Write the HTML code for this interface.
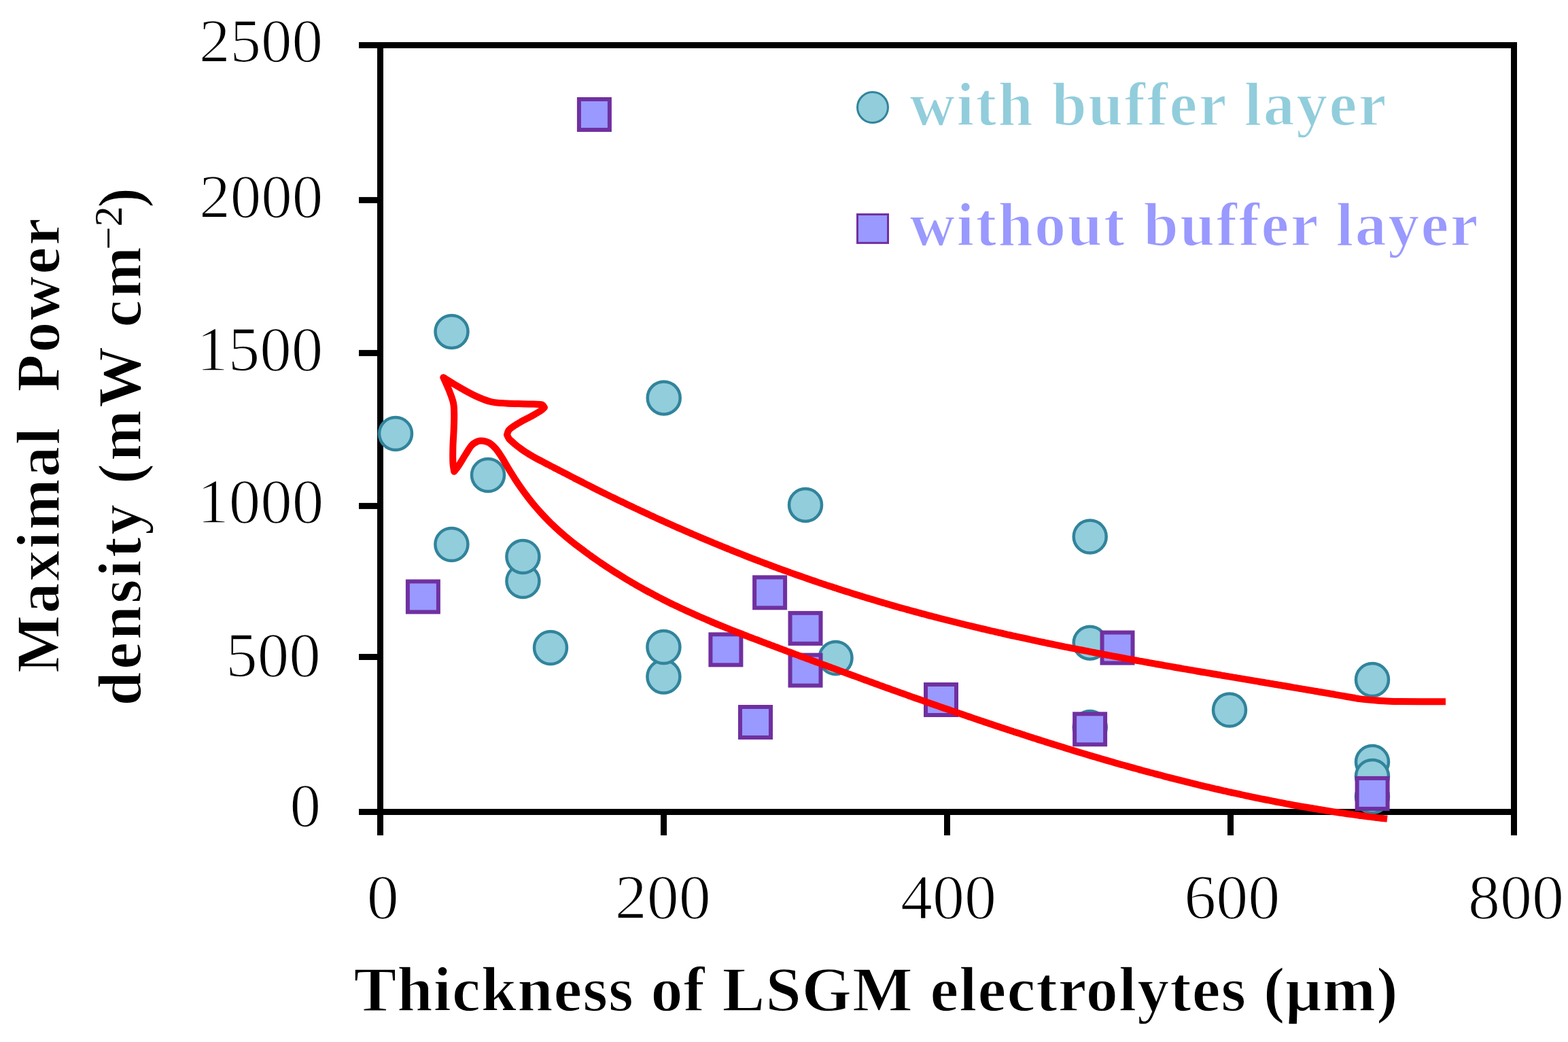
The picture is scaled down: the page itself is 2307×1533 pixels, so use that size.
<!DOCTYPE html>
<html><head><meta charset="utf-8"><title>Maximal power density vs thickness of LSGM electrolytes</title>
<style>html,body{margin:0;padding:0;background:#fff;width:2307px;height:1533px;overflow:hidden}svg{display:block}</style>
</head><body>
<svg width="2307" height="1533" viewBox="0 0 2307 1533"><rect width="2307" height="1533" fill="#ffffff"/>
<rect x="555" y="62" width="9" height="1137" fill="#000000"/>
<rect x="2223" y="62" width="9" height="1167" fill="#000000"/>
<rect x="528" y="62" width="1704" height="9" fill="#000000"/>
<rect x="528" y="1190" width="1704" height="9" fill="#000000"/>
<rect x="528" y="289.9" width="32" height="9" fill="#000000"/>
<rect x="528" y="514.9" width="32" height="9" fill="#000000"/>
<rect x="528" y="739.9" width="32" height="9" fill="#000000"/>
<rect x="528" y="962.0" width="32" height="9" fill="#000000"/>
<rect x="555.0" y="1190" width="9" height="39" fill="#000000"/>
<rect x="972.0" y="1190" width="9" height="39" fill="#000000"/>
<rect x="1389.0" y="1190" width="9" height="39" fill="#000000"/>
<rect x="1806.0" y="1190" width="9" height="39" fill="#000000"/>
<circle cx="582.0" cy="638.0" r="24.0" fill="#92cddc" stroke="#31849b" stroke-width="4.5"/>
<circle cx="664.5" cy="488.0" r="24.0" fill="#92cddc" stroke="#31849b" stroke-width="4.5"/>
<circle cx="718.0" cy="699.0" r="24.0" fill="#92cddc" stroke="#31849b" stroke-width="4.5"/>
<circle cx="664.4" cy="801.0" r="24.0" fill="#92cddc" stroke="#31849b" stroke-width="4.5"/>
<circle cx="769.4" cy="855.0" r="24.0" fill="#92cddc" stroke="#31849b" stroke-width="4.5"/>
<circle cx="769.4" cy="819.0" r="24.0" fill="#92cddc" stroke="#31849b" stroke-width="4.5"/>
<circle cx="810.0" cy="953.0" r="24.0" fill="#92cddc" stroke="#31849b" stroke-width="4.5"/>
<circle cx="976.7" cy="585.4" r="24.0" fill="#92cddc" stroke="#31849b" stroke-width="4.5"/>
<circle cx="976.4" cy="995.5" r="24.0" fill="#92cddc" stroke="#31849b" stroke-width="4.5"/>
<circle cx="976.4" cy="952.0" r="24.0" fill="#92cddc" stroke="#31849b" stroke-width="4.5"/>
<circle cx="1185.0" cy="743.0" r="24.0" fill="#92cddc" stroke="#31849b" stroke-width="4.5"/>
<circle cx="1229.5" cy="968.0" r="24.0" fill="#92cddc" stroke="#31849b" stroke-width="4.5"/>
<circle cx="1603.7" cy="789.5" r="24.0" fill="#92cddc" stroke="#31849b" stroke-width="4.5"/>
<circle cx="1603.7" cy="945.7" r="24.0" fill="#92cddc" stroke="#31849b" stroke-width="4.5"/>
<circle cx="1603.7" cy="1070.0" r="24.0" fill="#92cddc" stroke="#31849b" stroke-width="4.5"/>
<circle cx="1809.0" cy="1044.5" r="24.0" fill="#92cddc" stroke="#31849b" stroke-width="4.5"/>
<circle cx="2019.0" cy="1000.0" r="24.0" fill="#92cddc" stroke="#31849b" stroke-width="4.5"/>
<circle cx="2019.0" cy="1121.0" r="24.0" fill="#92cddc" stroke="#31849b" stroke-width="4.5"/>
<circle cx="2019.0" cy="1142.0" r="24.0" fill="#92cddc" stroke="#31849b" stroke-width="4.5"/>
<circle cx="2019.0" cy="1172.0" r="24.0" fill="#92cddc" stroke="#31849b" stroke-width="4.5"/>
<rect x="599.9" y="855.4" width="45" height="45" fill="#9999ff" stroke="#7030a0" stroke-width="6"/>
<rect x="851.9" y="146.0" width="45" height="45" fill="#9999ff" stroke="#7030a0" stroke-width="6"/>
<rect x="1045.4" y="933.3" width="45" height="45" fill="#9999ff" stroke="#7030a0" stroke-width="6"/>
<rect x="1089.0" y="1040.0" width="45" height="45" fill="#9999ff" stroke="#7030a0" stroke-width="6"/>
<rect x="1110.1" y="849.3" width="45" height="45" fill="#9999ff" stroke="#7030a0" stroke-width="6"/>
<rect x="1162.5" y="901.9" width="45" height="45" fill="#9999ff" stroke="#7030a0" stroke-width="6"/>
<rect x="1162.5" y="963.6" width="45" height="45" fill="#9999ff" stroke="#7030a0" stroke-width="6"/>
<rect x="1362.0" y="1007.0" width="45" height="45" fill="#9999ff" stroke="#7030a0" stroke-width="6"/>
<rect x="1581.1" y="1050.3" width="45" height="45" fill="#9999ff" stroke="#7030a0" stroke-width="6"/>
<rect x="1621.5" y="930.5" width="45" height="45" fill="#9999ff" stroke="#7030a0" stroke-width="6"/>
<rect x="1996.6" y="1144.9" width="45" height="45" fill="#9999ff" stroke="#7030a0" stroke-width="6"/>
<path d="M2127.0,1032.2 C2120.8,1032.2 2101.2,1032.2 2090.0,1032.2 C2078.8,1032.2 2068.3,1032.2 2060.0,1032.1 C2051.7,1032.0 2046.7,1031.8 2040.0,1031.5 C2033.3,1031.2 2026.7,1030.7 2020.0,1030.1 C2013.3,1029.5 2004.3,1028.6 2000.0,1028.1 C1995.7,1027.6 1996.0,1027.4 1994.0,1027.1 C1992.0,1026.7 1990.0,1026.4 1988.0,1026.0 C1986.0,1025.7 1984.0,1025.3 1982.0,1025.0 C1980.0,1024.6 1978.0,1024.3 1976.0,1023.9 C1974.0,1023.6 1972.0,1023.2 1970.0,1022.9 C1968.0,1022.5 1966.0,1022.2 1964.0,1021.8 C1962.0,1021.5 1960.0,1021.1 1958.0,1020.8 C1956.0,1020.4 1954.0,1020.1 1952.0,1019.7 C1950.0,1019.4 1948.0,1019.1 1946.0,1018.7 C1944.0,1018.4 1942.0,1018.0 1940.0,1017.7 C1938.0,1017.3 1936.0,1017.0 1934.0,1016.7 C1932.0,1016.3 1930.0,1016.0 1928.0,1015.6 C1926.0,1015.3 1924.0,1015.0 1922.0,1014.6 C1920.0,1014.3 1918.0,1013.9 1916.0,1013.6 C1914.0,1013.3 1912.0,1012.9 1910.0,1012.6 C1908.0,1012.2 1906.0,1011.9 1904.0,1011.6 C1902.0,1011.2 1900.0,1010.9 1898.0,1010.5 C1896.0,1010.2 1894.0,1009.9 1892.0,1009.5 C1890.0,1009.2 1888.0,1008.8 1886.0,1008.5 C1884.0,1008.2 1882.0,1007.8 1880.0,1007.5 C1878.0,1007.2 1876.0,1006.8 1874.0,1006.5 C1872.0,1006.1 1870.0,1005.8 1868.0,1005.5 C1866.0,1005.1 1864.0,1004.8 1862.0,1004.5 C1860.0,1004.1 1858.0,1003.8 1856.0,1003.5 C1854.0,1003.1 1852.0,1002.8 1850.0,1002.4 C1848.0,1002.1 1846.0,1001.8 1844.0,1001.4 C1842.0,1001.1 1840.0,1000.8 1838.0,1000.4 C1836.0,1000.1 1834.0,999.7 1832.0,999.4 C1830.0,999.1 1828.0,998.7 1826.0,998.4 C1824.0,998.1 1822.0,997.7 1820.0,997.4 C1818.0,997.0 1816.0,996.7 1814.0,996.4 C1812.0,996.0 1810.0,995.7 1808.0,995.4 C1806.0,995.0 1804.0,994.7 1802.0,994.3 C1800.0,994.0 1798.0,993.7 1796.0,993.3 C1794.0,993.0 1792.0,992.6 1790.0,992.3 C1788.0,992.0 1786.0,991.6 1784.0,991.3 C1782.0,990.9 1780.0,990.6 1778.0,990.2 C1776.0,989.9 1774.0,989.6 1772.0,989.2 C1770.0,988.9 1768.0,988.5 1766.0,988.2 C1764.0,987.9 1762.0,987.5 1760.0,987.2 C1758.0,986.8 1756.0,986.5 1754.0,986.1 C1752.0,985.8 1750.0,985.4 1748.0,985.1 C1746.0,984.7 1744.0,984.4 1742.0,984.1 C1740.0,983.7 1738.0,983.4 1736.0,983.0 C1734.0,982.7 1732.0,982.3 1730.0,982.0 C1728.0,981.6 1726.0,981.3 1724.0,980.9 C1722.0,980.6 1720.0,980.2 1718.0,979.9 C1716.0,979.5 1714.0,979.2 1712.0,978.8 C1710.0,978.4 1708.0,978.1 1706.0,977.7 C1704.0,977.4 1702.0,977.0 1700.0,976.7 C1698.0,976.3 1696.0,976.0 1694.0,975.6 C1692.0,975.2 1690.0,974.9 1688.0,974.5 C1686.0,974.2 1684.0,973.8 1682.0,973.4 C1680.0,973.1 1678.0,972.7 1676.0,972.4 C1674.0,972.0 1672.0,971.6 1670.0,971.3 C1668.0,970.9 1666.0,970.5 1664.0,970.2 C1662.0,969.8 1660.0,969.4 1658.0,969.1 C1656.0,968.7 1654.0,968.3 1652.0,968.0 C1650.0,967.6 1648.0,967.2 1646.0,966.8 C1644.0,966.5 1642.0,966.1 1640.0,965.7 C1638.0,965.4 1636.0,965.0 1634.0,964.6 C1632.0,964.2 1630.0,963.9 1628.0,963.5 C1626.0,963.1 1624.0,962.7 1622.0,962.3 C1620.0,962.0 1618.0,961.6 1616.0,961.2 C1614.0,960.8 1612.0,960.4 1610.0,960.0 C1608.0,959.7 1606.0,959.3 1604.0,958.9 C1602.0,958.5 1600.0,958.1 1598.0,957.7 C1596.0,957.3 1594.0,956.9 1592.0,956.5 C1590.0,956.1 1588.0,955.8 1586.0,955.4 C1584.0,955.0 1582.0,954.6 1580.0,954.2 C1578.0,953.8 1576.0,953.4 1574.0,953.0 C1572.0,952.6 1570.0,952.2 1568.0,951.8 C1566.0,951.4 1564.0,951.0 1562.0,950.6 C1560.0,950.1 1558.0,949.7 1556.0,949.3 C1554.0,948.9 1552.0,948.5 1550.0,948.1 C1548.0,947.7 1546.0,947.3 1544.0,946.9 C1542.0,946.5 1540.0,946.0 1538.0,945.6 C1536.0,945.2 1534.0,944.8 1532.0,944.4 C1530.0,943.9 1528.0,943.5 1526.0,943.1 C1524.0,942.7 1522.0,942.2 1520.0,941.8 C1518.0,941.4 1516.0,941.0 1514.0,940.5 C1512.0,940.1 1510.0,939.7 1508.0,939.2 C1506.0,938.8 1504.0,938.4 1502.0,937.9 C1500.0,937.5 1498.0,937.1 1496.0,936.6 C1494.0,936.2 1492.0,935.7 1490.0,935.3 C1488.0,934.8 1486.0,934.4 1484.0,934.0 C1482.0,933.5 1480.0,933.1 1478.0,932.6 C1476.0,932.2 1474.0,931.7 1472.0,931.2 C1470.0,930.8 1468.0,930.3 1466.0,929.9 C1464.0,929.4 1462.0,929.0 1460.0,928.5 C1458.0,928.0 1456.0,927.6 1454.0,927.1 C1452.0,926.6 1450.0,926.2 1448.0,925.7 C1446.0,925.2 1444.0,924.8 1442.0,924.3 C1440.0,923.8 1438.0,923.3 1436.0,922.9 C1434.0,922.4 1432.0,921.9 1430.0,921.4 C1428.0,920.9 1426.0,920.5 1424.0,920.0 C1422.0,919.5 1420.0,919.0 1418.0,918.5 C1416.0,918.0 1414.0,917.5 1412.0,917.0 C1410.0,916.5 1408.0,916.0 1406.0,915.5 C1404.0,915.0 1402.0,914.5 1400.0,914.0 C1398.0,913.5 1396.0,913.0 1394.0,912.5 C1392.0,912.0 1390.0,911.5 1388.0,911.0 C1386.0,910.5 1384.0,910.0 1382.0,909.5 C1380.0,908.9 1378.0,908.4 1376.0,907.9 C1374.0,907.4 1372.0,906.9 1370.0,906.3 C1368.0,905.8 1366.0,905.3 1364.0,904.8 C1362.0,904.2 1360.0,903.7 1358.0,903.2 C1356.0,902.6 1354.0,902.1 1352.0,901.5 C1350.0,901.0 1348.0,900.5 1346.0,899.9 C1344.0,899.4 1342.0,898.8 1340.0,898.3 C1338.0,897.7 1336.0,897.2 1334.0,896.6 C1332.0,896.1 1330.0,895.5 1328.0,895.0 C1326.0,894.4 1324.0,893.8 1322.0,893.3 C1320.0,892.7 1318.0,892.1 1316.0,891.6 C1314.0,891.0 1312.0,890.4 1310.0,889.9 C1308.0,889.3 1306.0,888.7 1304.0,888.1 C1302.0,887.5 1300.0,887.0 1298.0,886.4 C1296.0,885.8 1294.0,885.2 1292.0,884.6 C1290.0,884.0 1288.0,883.4 1286.0,882.8 C1284.0,882.2 1282.0,881.6 1280.0,881.0 C1278.0,880.4 1276.0,879.8 1274.0,879.2 C1272.0,878.6 1270.0,878.0 1268.0,877.4 C1266.0,876.8 1264.0,876.2 1262.0,875.5 C1260.0,874.9 1258.0,874.3 1256.0,873.7 C1254.0,873.1 1252.0,872.4 1250.0,871.8 C1248.0,871.2 1246.0,870.5 1244.0,869.9 C1242.0,869.3 1240.0,868.6 1238.0,868.0 C1236.0,867.3 1234.0,866.7 1232.0,866.0 C1230.0,865.4 1228.0,864.7 1226.0,864.1 C1224.0,863.4 1222.0,862.8 1220.0,862.1 C1218.0,861.5 1216.0,860.8 1214.0,860.1 C1212.0,859.5 1210.0,858.8 1208.0,858.1 C1206.0,857.5 1204.0,856.8 1202.0,856.1 C1200.0,855.4 1198.0,854.7 1196.0,854.1 C1194.0,853.4 1192.0,852.7 1190.0,852.0 C1188.0,851.3 1186.0,850.6 1184.0,849.9 C1182.0,849.2 1180.0,848.5 1178.0,847.8 C1176.0,847.1 1174.0,846.4 1172.0,845.7 C1170.0,845.0 1168.0,844.3 1166.0,843.6 C1164.0,842.9 1162.0,842.2 1160.0,841.4 C1158.0,840.7 1156.0,840.0 1154.0,839.3 C1152.0,838.5 1150.0,837.8 1148.0,837.1 C1146.0,836.4 1144.0,835.6 1142.0,834.9 C1140.0,834.1 1138.0,833.4 1136.0,832.7 C1134.0,831.9 1132.0,831.2 1130.0,830.4 C1128.0,829.7 1126.0,828.9 1124.0,828.2 C1122.0,827.4 1120.0,826.6 1118.0,825.9 C1116.0,825.1 1114.0,824.4 1112.0,823.6 C1110.0,822.8 1108.0,822.1 1106.0,821.3 C1104.0,820.5 1102.0,819.7 1100.0,819.0 C1098.0,818.2 1096.0,817.4 1094.0,816.6 C1092.0,815.8 1090.0,815.0 1088.0,814.2 C1086.0,813.5 1084.0,812.7 1082.0,811.9 C1080.0,811.1 1078.0,810.3 1076.0,809.5 C1074.0,808.7 1072.0,807.8 1070.0,807.0 C1068.0,806.2 1066.0,805.4 1064.0,804.6 C1062.0,803.8 1060.0,803.0 1058.0,802.1 C1056.0,801.3 1054.0,800.5 1052.0,799.7 C1050.0,798.8 1048.0,798.0 1046.0,797.2 C1044.0,796.4 1042.0,795.5 1040.0,794.7 C1038.0,793.8 1036.0,793.0 1034.0,792.2 C1032.0,791.3 1030.0,790.5 1028.0,789.6 C1026.0,788.8 1024.0,787.9 1022.0,787.0 C1020.0,786.2 1018.0,785.3 1016.0,784.5 C1014.0,783.6 1012.0,782.7 1010.0,781.9 C1008.0,781.0 1006.0,780.1 1004.0,779.2 C1002.0,778.4 1000.0,777.5 998.0,776.6 C996.0,775.7 994.0,774.9 992.0,774.0 C990.0,773.1 988.0,772.2 986.0,771.3 C984.0,770.4 982.0,769.5 980.0,768.6 C978.0,767.7 976.0,766.8 974.0,765.9 C972.0,765.0 970.0,764.1 968.0,763.2 C966.0,762.3 964.0,761.4 962.0,760.4 C960.0,759.5 958.0,758.6 956.0,757.7 C954.0,756.8 952.0,755.8 950.0,754.9 C948.0,754.0 946.0,753.0 944.0,752.1 C942.0,751.2 940.0,750.2 938.0,749.3 C936.0,748.3 934.0,747.4 932.0,746.5 C930.0,745.5 928.0,744.6 926.0,743.6 C924.0,742.7 922.0,741.7 920.0,740.7 C918.0,739.8 916.0,738.8 914.0,737.9 C912.0,736.9 910.0,735.9 908.0,735.0 C906.0,734.0 904.0,733.0 902.0,732.0 C900.0,731.1 898.0,730.1 896.0,729.1 C894.0,728.1 892.0,727.1 890.0,726.1 C888.0,725.2 886.0,724.2 884.0,723.2 C882.0,722.2 880.0,721.2 878.0,720.2 C876.0,719.2 874.0,718.2 872.0,717.2 C870.0,716.2 868.0,715.2 866.0,714.1 C864.0,713.1 862.0,712.1 860.0,711.1 C858.0,710.1 856.0,709.1 854.0,708.0 C852.0,707.0 850.0,706.0 848.0,705.0 C846.0,704.0 844.0,702.9 842.0,701.9 C840.0,700.9 838.0,699.8 836.0,698.8 C834.0,697.8 832.0,696.8 830.0,695.7 C828.0,694.7 826.0,693.7 824.0,692.6 C822.0,691.6 820.0,690.5 818.0,689.5 C816.0,688.5 814.0,687.4 812.0,686.4 C810.0,685.4 808.0,684.3 806.0,683.3 C804.0,682.2 802.0,681.2 800.0,680.1 C798.0,679.1 796.0,678.1 794.0,677.0 C792.0,676.0 790.0,674.9 788.0,673.8 C786.0,672.7 784.0,671.6 782.0,670.4 C780.0,669.3 778.0,668.1 776.0,666.8 C774.0,665.6 772.0,664.3 770.0,662.9 C768.0,661.5 766.0,660.1 764.0,658.6 C762.0,657.1 760.0,655.5 758.0,653.8 C756.0,652.2 753.5,649.9 752.0,648.5 C750.5,647.2 750.0,647.1 749.0,645.7 C748.0,644.2 746.5,640.8 746.0,639.8 C746.4,638.7 747.0,635.1 748.5,633.0 C750.0,630.9 752.1,629.4 755.2,627.3 C758.3,625.2 762.1,623.0 767.0,620.2 C771.9,617.5 779.8,613.5 784.6,610.8 C789.4,608.1 793.3,605.9 796.0,604.0 C798.7,602.1 800.2,600.2 801.0,599.5 C800.3,598.8 799.7,596.1 797.0,595.3 C794.3,594.5 789.6,594.8 785.0,594.6 C780.4,594.4 775.8,594.4 769.2,594.2 C762.7,594.0 753.6,593.9 745.7,593.4 C737.8,592.9 729.8,592.9 722.0,591.0 C714.2,589.1 706.5,585.7 698.7,582.1 C690.9,578.5 682.9,573.9 675.2,569.4 C667.5,564.9 656.1,557.6 652.3,555.3 C653.8,558.6 658.6,569.0 661.1,575.2 C663.6,581.5 665.8,586.9 667.0,592.8 C668.2,598.7 668.1,603.5 668.2,610.4 C668.3,617.2 667.9,626.1 667.6,633.9 C667.3,641.7 666.6,649.6 666.4,657.4 C666.2,665.2 666.1,674.8 666.4,680.9 C666.7,687.0 667.9,691.6 668.2,693.8 C669.4,692.2 672.5,688.5 675.2,684.4 C677.9,680.3 681.5,674.1 684.6,669.2 C687.7,664.3 690.9,658.4 694.0,655.1 C697.1,651.8 700.7,650.3 703.4,649.2 C706.1,648.1 707.7,648.2 710.4,648.6 C713.1,649.0 716.7,649.6 719.8,651.5 C722.9,653.4 726.2,656.5 729.2,659.8 C732.2,663.1 734.7,667.2 737.5,671.5 C740.3,675.8 743.6,681.7 746.0,685.8 C748.4,689.8 750.0,692.5 752.0,695.7 C754.0,699.0 756.0,702.1 758.0,705.2 C760.0,708.2 762.0,711.2 764.0,714.1 C766.0,717.0 768.0,719.8 770.0,722.6 C772.0,725.4 774.0,728.0 776.0,730.7 C778.0,733.3 780.0,735.8 782.0,738.3 C784.0,740.8 786.0,743.2 788.0,745.6 C790.0,747.9 792.0,750.2 794.0,752.4 C796.0,754.7 798.0,756.9 800.0,759.0 C802.0,761.1 804.0,763.2 806.0,765.2 C808.0,767.3 810.0,769.2 812.0,771.2 C814.0,773.1 816.0,775.0 818.0,776.9 C820.0,778.7 822.0,780.5 824.0,782.3 C826.0,784.1 828.0,785.8 830.0,787.5 C832.0,789.2 834.0,790.9 836.0,792.5 C838.0,794.2 840.0,795.8 842.0,797.4 C844.0,799.0 846.0,800.5 848.0,802.1 C850.0,803.6 852.0,805.1 854.0,806.6 C856.0,808.1 858.0,809.6 860.0,811.1 C862.0,812.6 864.0,814.0 866.0,815.5 C868.0,816.9 870.0,818.4 872.0,819.8 C874.0,821.2 876.0,822.6 878.0,824.0 C880.0,825.4 882.0,826.8 884.0,828.1 C886.0,829.5 888.0,830.8 890.0,832.2 C892.0,833.5 894.0,834.8 896.0,836.1 C898.0,837.4 900.0,838.7 902.0,840.0 C904.0,841.3 906.0,842.6 908.0,843.8 C910.0,845.1 912.0,846.3 914.0,847.5 C916.0,848.8 918.0,850.0 920.0,851.2 C922.0,852.4 924.0,853.6 926.0,854.8 C928.0,856.0 930.0,857.1 932.0,858.3 C934.0,859.5 936.0,860.6 938.0,861.8 C940.0,862.9 942.0,864.0 944.0,865.1 C946.0,866.3 948.0,867.4 950.0,868.5 C952.0,869.6 954.0,870.7 956.0,871.7 C958.0,872.8 960.0,873.9 962.0,874.9 C964.0,876.0 966.0,877.0 968.0,878.1 C970.0,879.1 972.0,880.1 974.0,881.2 C976.0,882.2 978.0,883.2 980.0,884.2 C982.0,885.2 984.0,886.2 986.0,887.2 C988.0,888.2 990.0,889.1 992.0,890.1 C994.0,891.1 996.0,892.0 998.0,893.0 C1000.0,893.9 1002.0,894.9 1004.0,895.8 C1006.0,896.7 1008.0,897.7 1010.0,898.6 C1012.0,899.5 1014.0,900.4 1016.0,901.3 C1018.0,902.2 1020.0,903.1 1022.0,904.0 C1024.0,904.9 1026.0,905.8 1028.0,906.7 C1030.0,907.6 1032.0,908.5 1034.0,909.3 C1036.0,910.2 1038.0,911.1 1040.0,911.9 C1042.0,912.8 1044.0,913.6 1046.0,914.5 C1048.0,915.3 1050.0,916.1 1052.0,917.0 C1054.0,917.8 1056.0,918.6 1058.0,919.5 C1060.0,920.3 1062.0,921.1 1064.0,921.9 C1066.0,922.7 1068.0,923.5 1070.0,924.3 C1072.0,925.2 1074.0,926.0 1076.0,926.8 C1078.0,927.6 1080.0,928.3 1082.0,929.1 C1084.0,929.9 1086.0,930.7 1088.0,931.5 C1090.0,932.3 1092.0,933.1 1094.0,933.8 C1096.0,934.6 1098.0,935.4 1100.0,936.2 C1102.0,936.9 1104.0,937.7 1106.0,938.5 C1108.0,939.2 1110.0,940.0 1112.0,940.7 C1114.0,941.5 1116.0,942.3 1118.0,943.0 C1120.0,943.8 1122.0,944.5 1124.0,945.3 C1126.0,946.0 1128.0,946.8 1130.0,947.5 C1132.0,948.3 1134.0,949.0 1136.0,949.8 C1138.0,950.5 1140.0,951.3 1142.0,952.0 C1144.0,952.8 1146.0,953.5 1148.0,954.3 C1150.0,955.0 1152.0,955.8 1154.0,956.5 C1156.0,957.3 1158.0,958.0 1160.0,958.8 C1162.0,959.5 1164.0,960.2 1166.0,961.0 C1168.0,961.7 1170.0,962.5 1172.0,963.2 C1174.0,964.0 1176.0,964.7 1178.0,965.5 C1180.0,966.2 1182.0,966.9 1184.0,967.7 C1186.0,968.4 1188.0,969.2 1190.0,969.9 C1192.0,970.6 1194.0,971.4 1196.0,972.1 C1198.0,972.9 1200.0,973.6 1202.0,974.4 C1204.0,975.1 1206.0,975.8 1208.0,976.6 C1210.0,977.3 1212.0,978.1 1214.0,978.8 C1216.0,979.5 1218.0,980.3 1220.0,981.0 C1222.0,981.7 1224.0,982.5 1226.0,983.2 C1228.0,984.0 1230.0,984.7 1232.0,985.4 C1234.0,986.2 1236.0,986.9 1238.0,987.6 C1240.0,988.4 1242.0,989.1 1244.0,989.8 C1246.0,990.6 1248.0,991.3 1250.0,992.0 C1252.0,992.8 1254.0,993.5 1256.0,994.2 C1258.0,995.0 1260.0,995.7 1262.0,996.4 C1264.0,997.2 1266.0,997.9 1268.0,998.6 C1270.0,999.4 1272.0,1000.1 1274.0,1000.8 C1276.0,1001.5 1278.0,1002.3 1280.0,1003.0 C1282.0,1003.7 1284.0,1004.4 1286.0,1005.2 C1288.0,1005.9 1290.0,1006.6 1292.0,1007.3 C1294.0,1008.1 1296.0,1008.8 1298.0,1009.5 C1300.0,1010.2 1302.0,1011.0 1304.0,1011.7 C1306.0,1012.4 1308.0,1013.1 1310.0,1013.8 C1312.0,1014.6 1314.0,1015.3 1316.0,1016.0 C1318.0,1016.7 1320.0,1017.4 1322.0,1018.1 C1324.0,1018.9 1326.0,1019.6 1328.0,1020.3 C1330.0,1021.0 1332.0,1021.7 1334.0,1022.4 C1336.0,1023.1 1338.0,1023.9 1340.0,1024.6 C1342.0,1025.3 1344.0,1026.0 1346.0,1026.7 C1348.0,1027.4 1350.0,1028.1 1352.0,1028.8 C1354.0,1029.5 1356.0,1030.2 1358.0,1030.9 C1360.0,1031.6 1362.0,1032.4 1364.0,1033.1 C1366.0,1033.8 1368.0,1034.5 1370.0,1035.2 C1372.0,1035.9 1374.0,1036.6 1376.0,1037.3 C1378.0,1038.0 1380.0,1038.7 1382.0,1039.4 C1384.0,1040.1 1386.0,1040.8 1388.0,1041.5 C1390.0,1042.2 1392.0,1042.8 1394.0,1043.5 C1396.0,1044.2 1398.0,1044.9 1400.0,1045.6 C1402.0,1046.3 1404.0,1047.0 1406.0,1047.7 C1408.0,1048.4 1410.0,1049.1 1412.0,1049.8 C1414.0,1050.4 1416.0,1051.1 1418.0,1051.8 C1420.0,1052.5 1422.0,1053.2 1424.0,1053.9 C1426.0,1054.5 1428.0,1055.2 1430.0,1055.9 C1432.0,1056.6 1434.0,1057.3 1436.0,1057.9 C1438.0,1058.6 1440.0,1059.3 1442.0,1060.0 C1444.0,1060.6 1446.0,1061.3 1448.0,1062.0 C1450.0,1062.7 1452.0,1063.3 1454.0,1064.0 C1456.0,1064.7 1458.0,1065.3 1460.0,1066.0 C1462.0,1066.7 1464.0,1067.4 1466.0,1068.0 C1468.0,1068.7 1470.0,1069.3 1472.0,1070.0 C1474.0,1070.7 1476.0,1071.3 1478.0,1072.0 C1480.0,1072.6 1482.0,1073.3 1484.0,1074.0 C1486.0,1074.6 1488.0,1075.3 1490.0,1075.9 C1492.0,1076.6 1494.0,1077.2 1496.0,1077.9 C1498.0,1078.5 1500.0,1079.2 1502.0,1079.8 C1504.0,1080.5 1506.0,1081.1 1508.0,1081.8 C1510.0,1082.4 1512.0,1083.1 1514.0,1083.7 C1516.0,1084.4 1518.0,1085.0 1520.0,1085.6 C1522.0,1086.3 1524.0,1086.9 1526.0,1087.6 C1528.0,1088.2 1530.0,1088.8 1532.0,1089.5 C1534.0,1090.1 1536.0,1090.7 1538.0,1091.4 C1540.0,1092.0 1542.0,1092.6 1544.0,1093.2 C1546.0,1093.9 1548.0,1094.5 1550.0,1095.1 C1552.0,1095.7 1554.0,1096.4 1556.0,1097.0 C1558.0,1097.6 1560.0,1098.2 1562.0,1098.8 C1564.0,1099.5 1566.0,1100.1 1568.0,1100.7 C1570.0,1101.3 1572.0,1101.9 1574.0,1102.5 C1576.0,1103.1 1578.0,1103.8 1580.0,1104.4 C1582.0,1105.0 1584.0,1105.6 1586.0,1106.2 C1588.0,1106.8 1590.0,1107.4 1592.0,1108.0 C1594.0,1108.6 1596.0,1109.2 1598.0,1109.8 C1600.0,1110.4 1602.0,1111.0 1604.0,1111.6 C1606.0,1112.2 1608.0,1112.8 1610.0,1113.3 C1612.0,1113.9 1614.0,1114.5 1616.0,1115.1 C1618.0,1115.7 1620.0,1116.3 1622.0,1116.9 C1624.0,1117.4 1626.0,1118.0 1628.0,1118.6 C1630.0,1119.2 1632.0,1119.8 1634.0,1120.3 C1636.0,1120.9 1638.0,1121.5 1640.0,1122.1 C1642.0,1122.6 1644.0,1123.2 1646.0,1123.8 C1648.0,1124.3 1650.0,1124.9 1652.0,1125.5 C1654.0,1126.0 1656.0,1126.6 1658.0,1127.1 C1660.0,1127.7 1662.0,1128.3 1664.0,1128.8 C1666.0,1129.4 1668.0,1129.9 1670.0,1130.5 C1672.0,1131.0 1674.0,1131.6 1676.0,1132.1 C1678.0,1132.7 1680.0,1133.2 1682.0,1133.8 C1684.0,1134.3 1686.0,1134.8 1688.0,1135.4 C1690.0,1135.9 1692.0,1136.5 1694.0,1137.0 C1696.0,1137.5 1698.0,1138.1 1700.0,1138.6 C1702.0,1139.1 1704.0,1139.7 1706.0,1140.2 C1708.0,1140.7 1710.0,1141.2 1712.0,1141.8 C1714.0,1142.3 1716.0,1142.8 1718.0,1143.3 C1720.0,1143.8 1722.0,1144.4 1724.0,1144.9 C1726.0,1145.4 1728.0,1145.9 1730.0,1146.4 C1732.0,1146.9 1734.0,1147.4 1736.0,1147.9 C1738.0,1148.4 1740.0,1148.9 1742.0,1149.4 C1744.0,1149.9 1746.0,1150.4 1748.0,1150.9 C1750.0,1151.4 1752.0,1151.9 1754.0,1152.4 C1756.0,1152.9 1758.0,1153.4 1760.0,1153.9 C1762.0,1154.4 1764.0,1154.8 1766.0,1155.3 C1768.0,1155.8 1770.0,1156.3 1772.0,1156.8 C1774.0,1157.2 1776.0,1157.7 1778.0,1158.2 C1780.0,1158.7 1782.0,1159.1 1784.0,1159.6 C1786.0,1160.1 1788.0,1160.5 1790.0,1161.0 C1792.0,1161.4 1794.0,1161.9 1796.0,1162.4 C1798.0,1162.8 1800.0,1163.3 1802.0,1163.7 C1804.0,1164.2 1806.0,1164.6 1808.0,1165.1 C1810.0,1165.5 1812.0,1166.0 1814.0,1166.4 C1816.0,1166.9 1818.0,1167.3 1820.0,1167.7 C1822.0,1168.2 1824.0,1168.6 1826.0,1169.0 C1828.0,1169.5 1830.0,1169.9 1832.0,1170.3 C1834.0,1170.8 1836.0,1171.2 1838.0,1171.6 C1840.0,1172.0 1842.0,1172.4 1844.0,1172.9 C1846.0,1173.3 1848.0,1173.7 1850.0,1174.1 C1852.0,1174.5 1854.0,1174.9 1856.0,1175.3 C1858.0,1175.7 1860.0,1176.1 1862.0,1176.5 C1864.0,1176.9 1866.0,1177.3 1868.0,1177.7 C1870.0,1178.1 1872.0,1178.5 1874.0,1178.9 C1876.0,1179.3 1878.0,1179.7 1880.0,1180.1 C1882.0,1180.5 1884.0,1180.8 1886.0,1181.2 C1888.0,1181.6 1890.0,1182.0 1892.0,1182.4 C1894.0,1182.7 1896.0,1183.1 1898.0,1183.5 C1900.0,1183.8 1902.0,1184.2 1904.0,1184.6 C1906.0,1184.9 1908.0,1185.3 1910.0,1185.6 C1912.0,1186.0 1914.0,1186.4 1916.0,1186.7 C1918.0,1187.1 1920.0,1187.4 1922.0,1187.7 C1924.0,1188.1 1926.0,1188.4 1928.0,1188.8 C1930.0,1189.1 1932.0,1189.4 1934.0,1189.8 C1936.0,1190.1 1938.0,1190.4 1940.0,1190.8 C1942.0,1191.1 1944.0,1191.4 1946.0,1191.7 C1948.0,1192.1 1950.0,1192.4 1952.0,1192.7 C1954.0,1193.0 1956.0,1193.3 1958.0,1193.6 C1960.0,1194.0 1962.0,1194.3 1964.0,1194.6 C1966.0,1194.9 1968.0,1195.2 1970.0,1195.5 C1972.0,1195.8 1974.0,1196.1 1976.0,1196.3 C1978.0,1196.6 1980.0,1196.9 1982.0,1197.2 C1984.0,1197.5 1986.0,1197.8 1988.0,1198.1 C1990.0,1198.3 1992.0,1198.6 1994.0,1198.9 C1996.0,1199.2 1998.0,1199.4 2000.0,1199.7 C2002.0,1200.0 2004.0,1200.2 2006.0,1200.5 C2008.0,1200.7 2010.0,1201.0 2012.0,1201.3 C2014.0,1201.5 2016.0,1201.8 2018.0,1202.0 C2020.0,1202.3 2022.0,1202.5 2024.0,1202.7 C2026.0,1203.0 2028.0,1203.2 2030.0,1203.5 C2032.0,1203.7 2034.2,1203.9 2036.0,1204.1 C2037.8,1204.4 2040.2,1204.6 2041.0,1204.7" fill="none" stroke="#ff0000" stroke-width="10" stroke-linejoin="round" stroke-linecap="butt"/>
<text x="475.0" y="91.3" font-family="'Liberation Serif', serif" font-size="91.0" font-weight="normal" fill="#000" text-anchor="end" stroke="#fff" stroke-width="1.6">2500</text>
<text x="475.3" y="319.6" font-family="'Liberation Serif', serif" font-size="91.0" font-weight="normal" fill="#000" text-anchor="end" stroke="#fff" stroke-width="1.6">2000</text>
<text x="475.3" y="544.6" font-family="'Liberation Serif', serif" font-size="93.0" font-weight="normal" fill="#000" text-anchor="end" stroke="#fff" stroke-width="1.6">1500</text>
<text x="476.3" y="769.0" font-family="'Liberation Serif', serif" font-size="93.0" font-weight="normal" fill="#000" text-anchor="end" stroke="#fff" stroke-width="1.6">1000</text>
<text x="471.8" y="994.6" font-family="'Liberation Serif', serif" font-size="93.0" font-weight="normal" fill="#000" text-anchor="end" stroke="#fff" stroke-width="1.6">500</text>
<text x="472.0" y="1216.0" font-family="'Liberation Serif', serif" font-size="91.0" font-weight="normal" fill="#000" text-anchor="end" stroke="#fff" stroke-width="1.6">0</text>
<text x="563.3" y="1351.0" font-family="'Liberation Serif', serif" font-size="94.0" font-weight="normal" fill="#000" text-anchor="middle" stroke="#fff" stroke-width="1.6">0</text>
<text x="975.3" y="1351.0" font-family="'Liberation Serif', serif" font-size="94.0" font-weight="normal" fill="#000" text-anchor="middle" stroke="#fff" stroke-width="1.6">200</text>
<text x="1395.4" y="1351.0" font-family="'Liberation Serif', serif" font-size="94.0" font-weight="normal" fill="#000" text-anchor="middle" stroke="#fff" stroke-width="1.6">400</text>
<text x="1812.7" y="1351.0" font-family="'Liberation Serif', serif" font-size="94.0" font-weight="normal" fill="#000" text-anchor="middle" stroke="#fff" stroke-width="1.6">600</text>
<text x="2230.5" y="1351.0" font-family="'Liberation Serif', serif" font-size="94.0" font-weight="normal" fill="#000" text-anchor="middle" stroke="#fff" stroke-width="1.6">800</text>
<text x="520.5" y="1486.8" font-family="'Liberation Serif', serif" font-size="94.0" font-weight="bold" fill="#000" text-anchor="start" textLength="1536" lengthAdjust="spacing" stroke="#fff" stroke-width="1.5">Thickness of LSGM electrolytes (μm)</text>
<g transform="translate(86.7,990) rotate(-90)"><text x="0.0" y="0.0" font-family="'Liberation Serif', serif" font-size="90.0" font-weight="bold" fill="#000" text-anchor="start" textLength="669" lengthAdjust="spacing" stroke="#fff" stroke-width="1.5">Maximal  Power</text></g>
<g transform="translate(206.6,1038.5) rotate(-90)"><text x="0" y="0" font-family="'Liberation Serif', serif" font-size="90" font-weight="bold" textLength="675.5" lengthAdjust="spacing" stroke="#fff" stroke-width="1.5">density (mW cm</text></g>
<g transform="translate(179.4,367.5) rotate(-90)"><text x="0" y="0" font-family="'Liberation Serif', serif" font-size="58.0" textLength="64.0" lengthAdjust="spacingAndGlyphs">−2</text></g>
<g transform="translate(206.6,306.0) rotate(-90)"><text x="0" y="0" font-family="'Liberation Serif', serif" font-size="90" font-weight="bold" stroke="#fff" stroke-width="1.5">)</text></g>
<circle cx="1284" cy="158" r="22.5" fill="#92cddc" stroke="#31849b" stroke-width="3"/>
<rect x="1261.5" y="315.4" width="45" height="42" fill="#9999ff" stroke="#7030a0" stroke-width="3"/>
<text x="1338.6" y="184.3" font-family="'Liberation Serif', serif" font-size="92.0" font-weight="bold" fill="#92cddc" text-anchor="start" textLength="701" lengthAdjust="spacing" stroke="#fff" stroke-width="1.6">with buffer layer</text>
<text x="1338.6" y="361.4" font-family="'Liberation Serif', serif" font-size="92.0" font-weight="bold" fill="#9999ff" text-anchor="start" textLength="836" lengthAdjust="spacing" stroke="#fff" stroke-width="1.6">without buffer layer</text></svg>
</body></html>
